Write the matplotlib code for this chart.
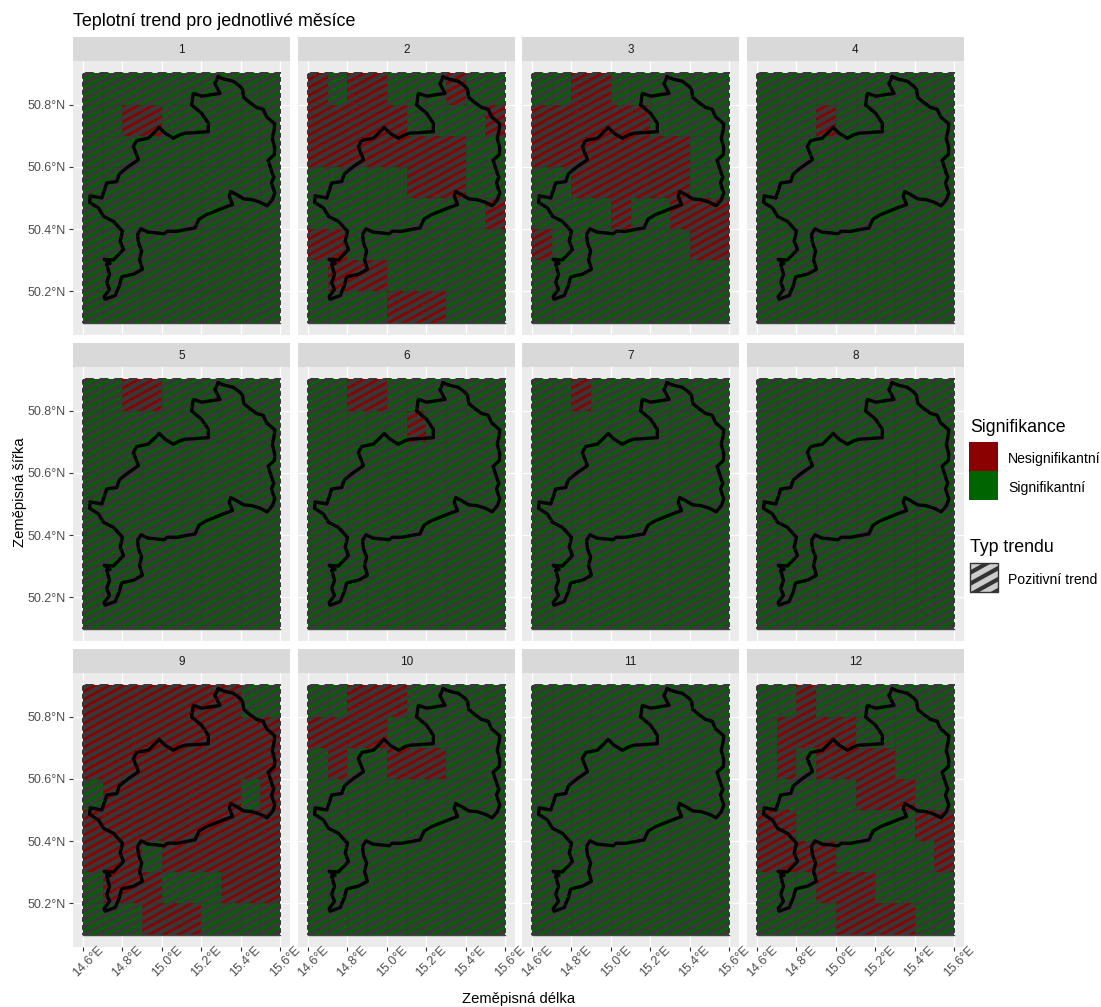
#!/usr/bin/env python3
"""Monthly temperature trend maps: significance grid with the basin outline on top."""

import matplotlib
matplotlib.use('Agg')
import matplotlib.pyplot as plt
from matplotlib.collections import LineCollection
from matplotlib.colors import ListedColormap
from matplotlib.patches import Rectangle
from matplotlib.transforms import ScaledTranslation
import numpy as np

plt.rcParams['font.family'] = ['Liberation Sans', 'DejaVu Sans']

# grid cell edges
lon_edges = [14.6, 14.7, 14.8, 14.9, 15.0, 15.1, 15.2, 15.3, 15.4, 15.5, 15.6]
lat_edges = [50.9, 50.8, 50.7, 50.6, 50.5, 50.4, 50.3, 50.2, 50.1]

# one string per latitude band, north to south: N = nesignifikantni, S = signifikantni
month_1 = ["SSSSSSSSSS", "SSNNSSSSSS", "SSSSSSSSSS", "SSSSSSSSSS",
           "SSSSSSSSSS", "SSSSSSSSSS", "SSSSSSSSSS", "SSSSSSSSSS"]
month_2 = ["NSNNSSSNSS", "NNNNNSSSSN", "NNNNNNNNSS", "SSSSSNNNSS",
           "SSSSSSSSSN", "NNSSSSSSSS", "SNNNSSSSSS", "SSSSNNNSSS"]
month_3 = ["SSNNSSSSSS", "NNNNNNSSSS", "NNNNNNNNSS", "SSNNNNNNSS",
           "SSSSNSSNNN", "NSSSSSSSNN", "SSSSSSSSSS", "SSSSSSSSSS"]
month_4 = ["SSSSSSSSSS", "SSSNSSSSSS", "SSSSSSSSSS", "SSSSSSSSSS",
           "SSSSSSSSSS", "SSSSSSSSSS", "SSSSSSSSSS", "SSSSSSSSSS"]
month_5 = ["SSNNSSSSSS", "SSSSSSSSSS", "SSSSSSSSSS", "SSSSSSSSSS",
           "SSSSSSSSSS", "SSSSSSSSSS", "SSSSSSSSSS", "SSSSSSSSSS"]
month_6 = ["SSNNSSSSSS", "SSSSSNSSSS", "SSSSSSSSSS", "SSSSSSSSSS",
           "SSSSSSSSSS", "SSSSSSSSSS", "SSSSSSSSSS", "SSSSSSSSSS"]
month_7 = ["SSNSSSSSSS", "SSSSSSSSSS", "SSSSSSSSSS", "SSSSSSSSSS",
           "SSSSSSSSSS", "SSSSSSSSSS", "SSSSSSSSSS", "SSSSSSSSSS"]
month_8 = ["SSSSSSSSSS", "SSSSSSSSSS", "SSSSSSSSSS", "SSSSSSSSSS",
           "SSSSSSSSSS", "SSSSSSSSSS", "SSSSSSSSSS", "SSSSSSSSSS"]
month_9 = ["NNNNNNNNSS", "NNNNNNNNNN", "NNNNNNNNNN", "SNNNNNNNSN",
           "NNNNNNNNNN", "NNNSNNNNNN", "SNNNSSSNNN", "SSSNNNSSSS"]
month_10 = ["SSNNNSSSSS", "NNNNSSSSSS", "SNSSNNNSSS", "SSSSSSSSSS",
            "SSSSSSSSSS", "SSSSSSSSSS", "SSSSSSSSSS", "SSSSSSSSSS"]
month_11 = ["SSSSSSSSSS", "SSSSSSSSSS", "SSSSSSSSSS", "SSSSSSSSSS",
            "SSSSSSSSSS", "SSSSSSSSSS", "SSSSSSSSSS", "SSSSSSSSSS"]
month_12 = ["SSNSSSSSSS", "SNNNNSSSSS", "SNSNNNNSSS", "SSSSSNNNSS",
            "NNSSSSSSNN", "NNNNSSSSSN", "SSSNNNSSSS", "SSSSNNNNSS"]
months = [month_1, month_2, month_3, month_4, month_5, month_6,
          month_7, month_8, month_9, month_10, month_11, month_12]

# basin outline
basin_lon = [15.286, 15.320, 15.362, 15.396, 15.409, 15.416, 15.441, 15.480, 15.514, 15.531,
             15.573, 15.568, 15.560, 15.573, 15.570, 15.539, 15.560, 15.568, 15.556, 15.573,
             15.561, 15.534, 15.497, 15.455, 15.416, 15.379, 15.349, 15.342, 15.359, 15.312,
             15.269, 15.227, 15.190, 15.168, 15.126, 15.076, 15.028, 15.011, 14.974, 14.932,
             14.895, 14.877, 14.882, 14.898, 14.887, 14.902, 14.856, 14.797, 14.784, 14.764,
             14.713, 14.708, 14.735, 14.721, 14.735, 14.721, 14.738, 14.708, 14.755, 14.806,
             14.789, 14.801, 14.755, 14.705, 14.679, 14.634, 14.637, 14.696, 14.721, 14.772,
             14.785, 14.831, 14.882, 14.856, 14.873, 14.932, 14.966, 14.986, 15.017, 15.059,
             15.092, 15.118, 15.236, 15.236, 15.202, 15.151, 15.160, 15.202, 15.295, 15.269,
             15.286]
basin_lat = [50.889, 50.881, 50.875, 50.859, 50.849, 50.823, 50.809, 50.791, 50.785, 50.761,
             50.738, 50.713, 50.692, 50.660, 50.639, 50.621, 50.580, 50.567, 50.548, 50.516,
             50.495, 50.475, 50.487, 50.495, 50.497, 50.511, 50.521, 50.505, 50.479, 50.468,
             50.457, 50.447, 50.433, 50.404, 50.399, 50.393, 50.393, 50.385, 50.388, 50.390,
             50.401, 50.383, 50.356, 50.329, 50.303, 50.271, 50.255, 50.247, 50.217, 50.187,
             50.175, 50.183, 50.207, 50.228, 50.255, 50.287, 50.290, 50.303, 50.301, 50.335,
             50.361, 50.393, 50.425, 50.441, 50.468, 50.486, 50.507, 50.500, 50.548, 50.553,
             50.578, 50.601, 50.623, 50.665, 50.685, 50.692, 50.713, 50.727, 50.708, 50.692,
             50.703, 50.708, 50.713, 50.740, 50.772, 50.799, 50.836, 50.827, 50.836, 50.868,
             50.889]

lon_ticks = [14.6, 14.8, 15.0, 15.2, 15.4, 15.6]
lat_ticks = [50.2, 50.4, 50.6, 50.8]

title_text = 'Teplotní trend pro jednotlivé měsíce'
xlabel_text = 'Zeměpisná délka'
ylabel_text = 'Zeměpisná šířka'
legend_fill_title = 'Signifikance'
legend_fill_labels = ['Nesignifikantní', 'Signifikantní']
legend_pattern_title = 'Typ trendu'
legend_pattern_label = 'Pozitivní trend'

RED = '#8B0000'
GREEN = '#006400'
STRIPE = '#383838'
W, H = 1101, 1007

fig = plt.figure(figsize=(W / 100, H / 100), dpi=100)


def fx(px):
    return px / W


def fy(py):
    return 1 - py / H


def draw_stripes(ax):
    """Diagonal stripes across the whole grid, clipped a hair outside it."""
    slope = 0.347
    starts = np.arange(49.5, 50.95, 0.0256)
    segs = [[(14.5, b), (15.7, b + slope * 1.2)] for b in starts]
    lc = LineCollection(segs, colors=STRIPE, linewidths=3.1, capstyle='butt', zorder=3)
    ax.add_collection(lc, autolim=False)
    clip = Rectangle((14.596, 50.1), 1.008, 0.805, transform=ax.transData)
    lc.set_clip_path(clip)


def draw_panel(ax, label, rows, show_x, show_y):
    ax.set_facecolor('#EBEBEB')
    for s in ax.spines.values():
        s.set_visible(False)
    ax.set_axisbelow(True)
    ax.grid(True, color='white', linewidth=0.9, zorder=0)

    grid = np.array([[1 if c == 'N' else 0 for c in row] for row in rows])
    ax.pcolormesh(lon_edges, lat_edges, grid, cmap=ListedColormap([GREEN, RED]),
                  vmin=0, vmax=1, edgecolors='none', antialiased=False, zorder=2)
    draw_stripes(ax)
    # faint seams between the cells
    ax.vlines(lon_edges[1:-1], 50.1, 50.9, color='#333333', linewidth=0.5, alpha=0.45, zorder=3.5)
    ax.hlines(lat_edges[1:-1], 14.6, 15.6, color='#333333', linewidth=0.5, alpha=0.45, zorder=3.5)
    ax.plot(basin_lon, basin_lat, color='black', linewidth=2.4, solid_joinstyle='round', zorder=4)
    ax.plot([14.6, 15.6], [50.1, 50.1], color='#444444', linewidth=1.0, zorder=3)

    ax.set_xlim(14.55, 15.65)
    ax.set_ylim(50.06, 50.94)
    ax.set_xticks(lon_ticks)
    ax.set_yticks(lat_ticks)
    ax.set_xticklabels([f'{v:.1f}°E' for v in lon_ticks], rotation=45, ha='center')
    ax.set_yticklabels([f'{v:.1f}°N' for v in lat_ticks])
    ax.tick_params(axis='x', bottom=show_x, labelbottom=show_x, length=3, width=0.8,
                   color='#333333', labelcolor='#4D4D4D', labelsize=9, pad=2)
    ax.tick_params(axis='y', left=show_y, labelleft=show_y, length=3, width=0.8,
                   color='#333333', labelcolor='#4D4D4D', labelsize=9, pad=2)
    # rotated labels sit close under the tick, a little to its right
    shift = ScaledTranslation(5 / 100, 10 / 100, fig.dpi_scale_trans)
    for lab in ax.get_xticklabels():
        lab.set_transform(lab.get_transform() + shift)

    # facet strip
    ax.add_patch(Rectangle((0, 1), 1, 24 / 274, transform=ax.transAxes, facecolor='#D9D9D9',
                           edgecolor='none', clip_on=False))
    ax.text(0.5, 1 + 11 / 274, label, transform=ax.transAxes, ha='center', va='center',
            fontsize=8.5, color='#1A1A1A')


col_left = [73, 298, 522, 747]
row_top = [61, 367, 673]
for i, rows in enumerate(months):
    r, c = divmod(i, 4)
    ax = fig.add_axes([fx(col_left[c]), fy(row_top[r] + 274), 217 / W, 274 / H])
    draw_panel(ax, str(i + 1), rows, r == 2, c == 0)

fig.text(fx(73), fy(22), title_text, fontsize=12.9, color='black', ha='left', va='center')
fig.text(fx(519), fy(999), xlabel_text, fontsize=10.6, color='black', ha='center', va='center')
fig.text(fx(20), fy(492), ylabel_text, fontsize=10.6, color='black', ha='center', va='center',
         rotation=90)

# legends
fig.text(fx(970), fy(428), legend_fill_title, fontsize=12.8, ha='left', va='center')
for top, colour, lab in zip([442, 471], [RED, GREEN], legend_fill_labels):
    fig.add_artist(Rectangle((fx(969), fy(top + 29)), 29 / W, 29 / H, transform=fig.transFigure,
                             facecolor=colour, edgecolor='none'))
    fig.text(fx(1008), fy(top + 17), lab, fontsize=10.1, color='black', ha='left', va='center')

fig.text(fx(970), fy(548), legend_pattern_title, fontsize=12.8, ha='left', va='center')
swatch = Rectangle((fx(970), fy(592)), 28 / W, 29 / H, transform=fig.transFigure,
                   facecolor='#CCCCCC', edgecolor='#333333', linewidth=1.0)
fig.add_artist(swatch)
for off in [-16, -5, 6, 17, 28]:
    stripe = plt.Line2D([fx(966), fx(1002)], [fy(592 - off), fy(592 - off - 20)],
                        transform=fig.transFigure, color='#333333', linewidth=3.0,
                        solid_capstyle='butt')
    fig.add_artist(stripe)
    stripe.set_clip_path(swatch)
fig.text(fx(1008), fy(580), legend_pattern_label, fontsize=10.1, color='black', ha='left', va='center')

fig.savefig('out.png', dpi=100)
plt.close(fig)
